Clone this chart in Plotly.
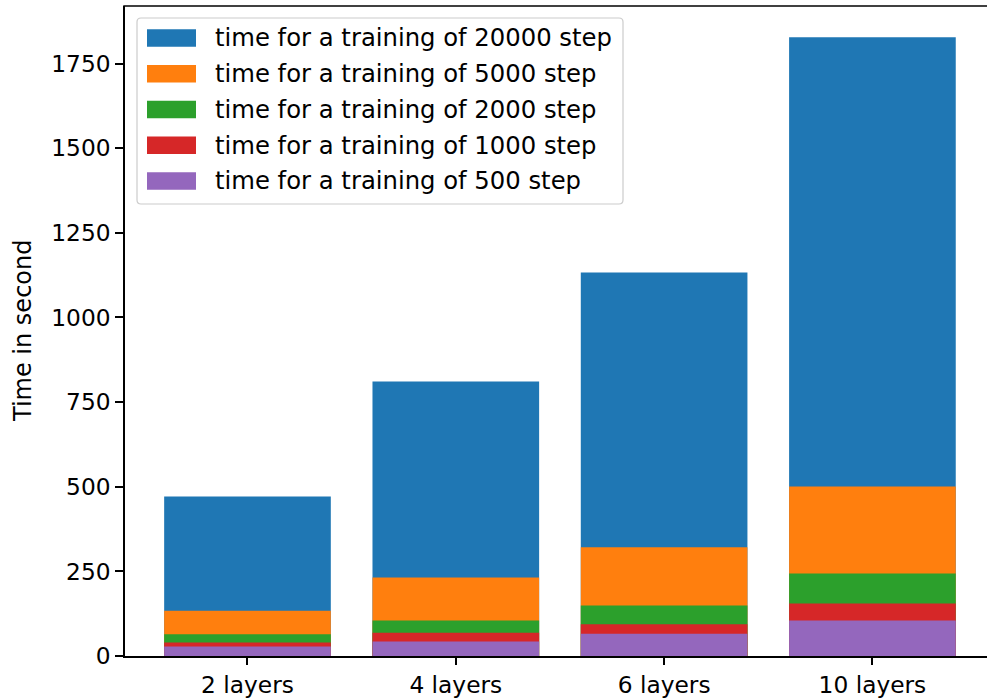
import plotly.graph_objects as go

categories = ["2 layers", "4 layers", "6 layers", "10 layers"]
series_names = [
    "time for a training of 20000 step",
    "time for a training of 5000 step",
    "time for a training of 2000 step",
    "time for a training of 1000 step",
    "time for a training of 500 step",
]
steps_20000 = [471, 811, 1133, 1828]
steps_5000 = [134, 232, 321, 501]
steps_2000 = [64, 105, 149, 244]
steps_1000 = [40, 69, 94, 155]
steps_500 = [28, 43, 66, 105]
series_values = [steps_20000, steps_5000, steps_2000, steps_1000, steps_500]
colors = ["#1f77b4", "#ff7f0e", "#2ca02c", "#d62728", "#9467bd"]
y_ticks = [0, 250, 500, 750, 1000, 1250, 1500, 1750]

FONT = "DejaVu Sans"
FS_TICK = 23.3
FS_LEG = 24.3
FS_TITLE = 24
W, H = 987, 700
ML, MR, MT, MB = 125, 0, 6, 44
PW, PH = W - ML - MR, H - MT - MB

fig = go.Figure()
for name, vals, col in zip(series_names, series_values, colors):
    fig.add_trace(go.Bar(x=categories, y=vals, name=name, marker_color=col,
                         marker_line_width=0, width=0.8, opacity=1))

def px_x(p):
    return (p - ML) / PW

def px_y(p):
    return 1 - (p - MT) / PH

shapes = []
annotations = []
# top spine
shapes.append(dict(type="line", xref="paper", yref="paper", x0=-0.002, x1=1, y0=1, y1=1,
                   line=dict(color="black", width=1.6)))
# legend box
bx0, bx1, by0, by1 = 137, 623, 18, 204
r = 4
path = (f"M {px_x(bx0 + r)},{px_y(by0)} L {px_x(bx1 - r)},{px_y(by0)} "
        f"Q {px_x(bx1)},{px_y(by0)} {px_x(bx1)},{px_y(by0 + r)} "
        f"L {px_x(bx1)},{px_y(by1 - r)} Q {px_x(bx1)},{px_y(by1)} {px_x(bx1 - r)},{px_y(by1)} "
        f"L {px_x(bx0 + r)},{px_y(by1)} Q {px_x(bx0)},{px_y(by1)} {px_x(bx0)},{px_y(by1 - r)} "
        f"L {px_x(bx0)},{px_y(by0 + r)} Q {px_x(bx0)},{px_y(by0)} {px_x(bx0 + r)},{px_y(by0)} Z")
shapes.append(dict(type="path", xref="paper", yref="paper", path=path,
                   fillcolor="rgba(255,255,255,0.8)", line=dict(color="#cccccc", width=1.2)))
row_y = [38, 73.7, 109.5, 145.3, 181]
for name, col, yc in zip(series_names, colors, row_y):
    shapes.append(dict(type="rect", xref="paper", yref="paper",
                       x0=px_x(147), x1=px_x(196), y0=px_y(yc - 8.8), y1=px_y(yc + 8.8),
                       fillcolor=col, line=dict(width=0)))
    annotations.append(dict(xref="paper", yref="paper", x=px_x(213), y=px_y(yc),
                            xanchor="left", yanchor="middle", showarrow=False, text=name,
                            font=dict(family=FONT, size=FS_LEG, color="black")))
annotations.append(dict(xref="paper", yref="paper", x=px_x(23), y=px_y(331),
                        xanchor="center", yanchor="middle", showarrow=False,
                        text="Time in second", textangle=-90,
                        font=dict(family=FONT, size=FS_TITLE, color="black")))

fig.update_layout(
    width=W, height=H, barmode="overlay", showlegend=False,
    margin=dict(l=ML, r=MR, t=MT, b=MB, pad=0),
    paper_bgcolor="white", plot_bgcolor="white",
    font=dict(family=FONT, size=FS_TICK, color="black"),
    shapes=shapes, annotations=annotations,
    xaxis=dict(range=[-0.588, 3.55], showgrid=False, showline=True, linecolor="black",
               linewidth=1.6, mirror=False, ticks="outside", ticklen=7, tickwidth=1.6,
               tickcolor="black", zeroline=False, automargin=False),
    yaxis=dict(range=[0, 1920], tickvals=y_ticks, showgrid=False, showline=True,
               linecolor="black", linewidth=1.6, ticks="outside", ticklen=8,
               tickwidth=1.6, tickcolor="black", zeroline=False, automargin=False),
)
fig.write_html("out.html", config={"displayModeBar": False},
               post_script="document.body.style.margin='0';document.body.style.overflow='hidden';")
